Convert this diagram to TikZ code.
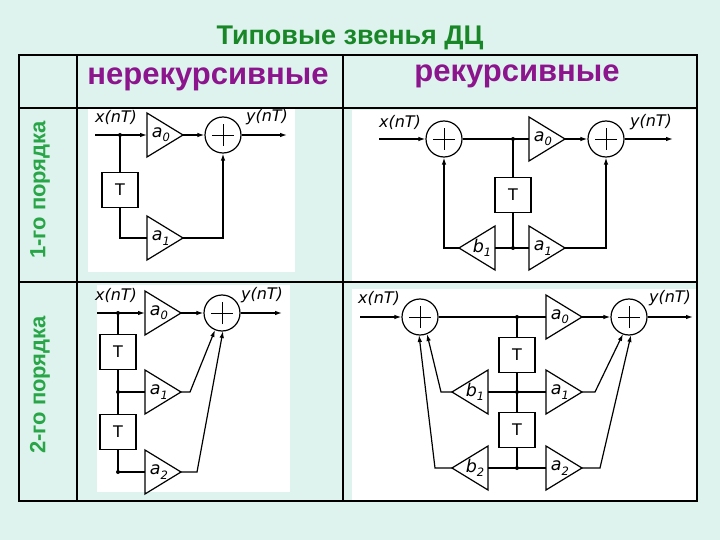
\documentclass[tikz,border=0pt]{standalone}
\usepackage{fontspec}
\setmainfont{Liberation Sans}
\newfontfamily\lblfont{DejaVu Sans}
\usetikzlibrary{arrows.meta,calc}
\definecolor{bgc}{RGB}{222,243,238}
\definecolor{titc}{RGB}{25,135,40}
\definecolor{hdc}{RGB}{140,20,140}
\definecolor{vtc}{RGB}{40,165,70}
\newcommand\sbs[1]{\raisebox{-0.45ex}{\fontsize{11.5}{11.5}\selectfont #1}}
\newcommand\ampR[4]{%
  \coordinate (#1in) at (#2,#3); \coordinate (#1out) at (#2+36,#3);
  \draw[wire] (#2,#3-22) -- (#2+36,#3) -- (#2,#3+22) -- cycle;
  \node[lab] (#1) at (#2+14,#3) {#4};}
\newcommand\ampL[4]{%
  \coordinate (#1in) at (#2+36,#3); \coordinate (#1out) at (#2,#3);
  \draw[wire] (#2+36,#3-22) -- (#2,#3) -- (#2+36,#3+22) -- cycle;
  \node[lab] (#1) at (#2+23,#3) {#4};}
\tikzset{
  wire/.style={line width=1.2pt, line join=miter},
  arr/.style={wire, -{Latex[length=7pt,width=4.5pt]}},
  lab/.style={font=\lblfont\fontsize{17.5}{17.5}\selectfont\itshape, inner sep=0pt},
  sig/.style={font=\lblfont\fontsize{16}{16}\selectfont\itshape, inner sep=0pt},
  sumc/.style={circle, draw, line width=1.2pt, minimum size=36pt, inner sep=0pt,
    path picture={\draw[line width=0.7pt] ([xshift=-11pt]path picture bounding box.center) -- ([xshift=11pt]path picture bounding box.center);
      \draw[line width=0.7pt] ([yshift=-11pt]path picture bounding box.center) -- ([yshift=11pt]path picture bounding box.center);}},
  tbox/.style={draw, line width=1.2pt, minimum width=36pt, minimum height=35pt, inner sep=0pt, font=\lblfont\fontsize{16}{16}\selectfont},
  dot/.style={circle, fill, inner sep=0pt, minimum size=4pt},
  grid/.style={line width=1.6pt},
}
\begin{document}
\begin{tikzpicture}[x=1pt,y=-1pt]
\fill[bgc] (0,0) rectangle (720,540);
\useasboundingbox (0,0) rectangle (720,540);
% white areas
\fill[white] (88,108) rectangle (295,272);
\fill[white] (352,110) rectangle (697,281);
\fill[white] (97,285) rectangle (290,492);
\fill[white] (352,289) rectangle (697,500);
% table
\draw[grid] (19,55) rectangle (697,501);
\draw[grid] (19,108) -- (697,108);
\draw[grid] (19,282) -- (697,282);
\draw[grid] (77,55) -- (77,501);
\draw[grid] (343,55) -- (343,501);
% titles
\node[font=\bfseries\fontsize{27}{27}\selectfont, text=titc] (title) at (350,38) {Типовые звенья ДЦ};
\node[font=\bfseries\fontsize{31}{31}\selectfont, text=hdc] (h1) at (208,79) {нерекурсивные};
\node[font=\bfseries\fontsize{31}{31}\selectfont, text=hdc] (h2) at (517,76) {рекурсивные};
\node[font=\bfseries\fontsize{22}{22}\selectfont, text=vtc, rotate=90] (v1) at (40,190) {1-го порядка};
\node[font=\bfseries\fontsize{22}{22}\selectfont, text=vtc, rotate=90] (v2) at (40,385) {2-го порядка};

% ===== TL: nonrecursive 1st order
\coordinate (tlx) at (95,135);
\node[dot] (tlj) at (120,135) {};
\ampR{tla}{147}{135}{a\sbs{0}}
\ampR{tlb}{147}{238}{a\sbs{1}}
\node[sumc] (tls) at (223,135) {};
\node[tbox] (tlt) at (120,190) {T};
\coordinate (tly) at (287,135);
\node[sig] (tlxl) at (116,117) {x(nT)};
\node[sig] (tlyl) at (267,117) {y(nT)};
\draw[arr] (tlx) -- (tlain);
\draw[arr] (tlaout) -- (tls);
\draw[arr] (tls) -- (tly);
\draw[wire] (tlj.center) -- (tlt);
\draw[wire] (tlt) |- (tlbin);
\draw[arr] (tlbout) -| (tls);

% ===== TR: recursive 1st order
\coordinate (trx) at (379,139);
\node[sumc] (trs1) at (444,139) {};
\node[dot] (trj) at (513,139) {};
\node[dot] (trj2) at (513,248) {};
\ampR{tra}{529}{139}{a\sbs{0}}
\ampR{trb}{529}{248}{a\sbs{1}}
\ampL{trc}{459}{248}{b\sbs{1}}
\node[sumc] (trs2) at (606,139) {};
\node[tbox] (trt) at (513,195) {T};
\coordinate (try) at (673,139);
\node[sig] (trxl) at (400,122) {x(nT)};
\node[sig] (tryl) at (651,122) {y(nT)};
\draw[arr] (trx) -- (trs1);
\draw[wire] (trs1) -- (trj.center) -- (train);
\draw[arr] (traout) -- (trs2);
\draw[arr] (trs2) -- (try);
\draw[wire] (trj.center) -- (trt) -- (trj2.center);
\draw[wire] (trcin) -- (trj2.center) -- (trbin);
\draw[arr] (trcout) -| (trs1);
\draw[arr] (trbout) -| (trs2);

% ===== BL: nonrecursive 2nd order
\coordinate (blx) at (97,313);
\node[dot] (blj0) at (118,313) {};
\node[dot] (blj1) at (118,392) {};
\node[dot] (blj2) at (118,472) {};
\ampR{bla}{145}{313}{a\sbs{0}}
\ampR{blb}{145}{392}{a\sbs{1}}
\ampR{blc}{145}{472}{a\sbs{2}}
\node[sumc] (bls) at (222,313) {};
\node[tbox] (blt1) at (118,352) {T};
\node[tbox] (blt2) at (118,432) {T};
\coordinate (bly) at (282,313);
\coordinate (blk1) at (190,392);
\coordinate (blk2) at (197,472);
\node[sig] (blxl) at (116,295) {x(nT)};
\node[sig] (blyl) at (262,295) {y(nT)};
\draw[arr] (blx) -- (blain);
\draw[arr] (blaout) -- (bls);
\draw[arr] (bls) -- (bly);
\draw[wire] (blj0.center) -- (blt1) -- (blj1.center) -- (blt2) -- (blj2.center);
\draw[wire] (blj1.center) -- (blbin);
\draw[wire] (blj2.center) -- (blcin);
\draw[arr] (blbout) -- (blk1) -- ($(bls.center)+(-7,17)$);
\draw[arr] (blcout) -- (blk2) -- ($(bls.center)+(1,18)$);

% ===== BR: recursive 2nd order
\coordinate (brx) at (360,317);
\node[sumc] (brs1) at (420,317) {};
\node[dot] (brj0) at (517,317) {};
\node[dot] (brj1) at (517,392) {};
\node[dot] (brj2) at (517,468) {};
\ampR{bra}{546}{317}{a\sbs{0}}
\ampR{brb}{546}{392}{a\sbs{1}}
\ampR{brc}{546}{468}{a\sbs{2}}
\ampL{brd}{452}{392}{b\sbs{1}}
\ampL{bre}{452}{468}{b\sbs{2}}
\node[sumc] (brs2) at (629,317) {};
\node[tbox] (brt1) at (517,355) {T};
\node[tbox] (brt2) at (517,430) {T};
\coordinate (bry) at (693,317);
\coordinate (brk1) at (441,392);
\coordinate (brk2) at (435,468);
\coordinate (brk3) at (595,392);
\coordinate (brk4) at (600,468);
\node[sig] (brxl) at (379,298) {x(nT)};
\node[sig] (bryl) at (670,298) {y(nT)};
\draw[arr] (brx) -- (brs1);
\draw[wire] (brs1) -- (brj0.center) -- (brain);
\draw[arr] (braout) -- (brs2);
\draw[arr] (brs2) -- (bry);
\draw[wire] (brj0.center) -- (brt1) -- (brj1.center) -- (brt2) -- (brj2.center);
\draw[wire] (brdin) -- (brj1.center) -- (brbin);
\draw[wire] (brein) -- (brj2.center) -- (brcin);
\draw[arr] (brdout) -- (brk1) -- ($(brs1.center)+(7,17)$);
\draw[arr] (breout) -- (brk2) -- ($(brs1.center)+(-1,18)$);
\draw[arr] (brbout) -- (brk3) -- ($(brs2.center)+(-6,17)$);
\draw[arr] (brcout) -- (brk4) -- ($(brs2.center)+(2,18)$);
\end{tikzpicture}
\end{document}
